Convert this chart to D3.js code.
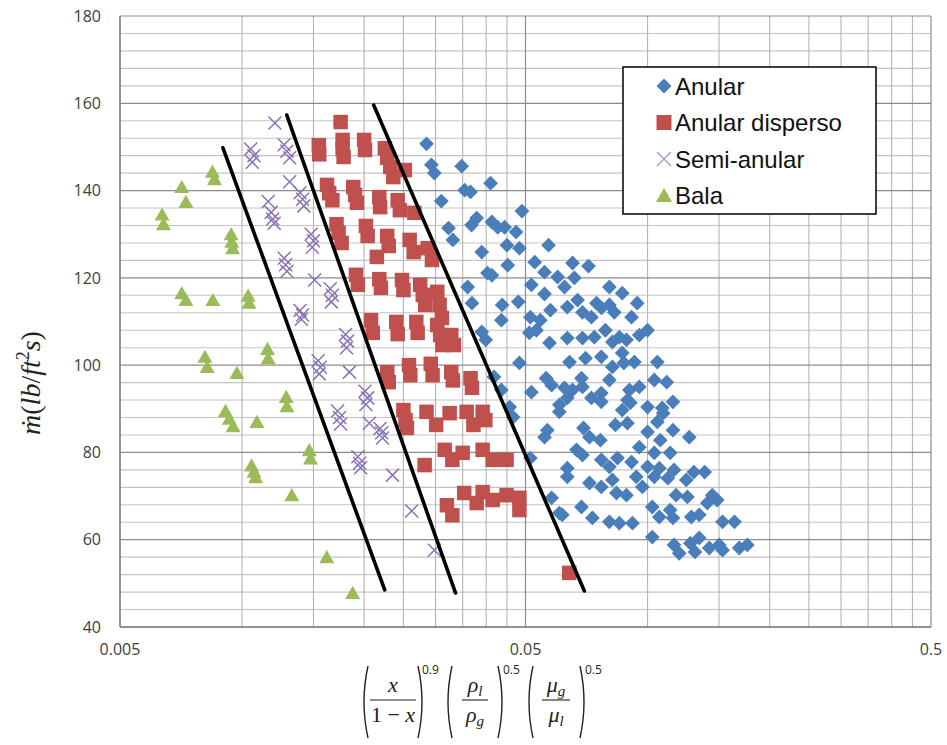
<!DOCTYPE html>
<html><head><meta charset="utf-8">
<script src="https://cdn.jsdelivr.net/npm/d3@7/dist/d3.min.js"></script>
<style>body{margin:0;background:#fff}svg{display:block}</style>
</head><body>
<svg id="c" width="947" height="745"></svg>
<script>
// ---------- DATA ----------
const seriesNames = ["Anular", "Anular disperso", "Semi-anular", "Bala"];
const xTickLabels = [0.005, 0.05, 0.5];
const yTickLabels = [40, 60, 80, 100, 120, 140, 160, 180];

const anular = [
[0.0285,150.7],[0.0293,145.9],[0.0298,144.0],[0.0348,145.6],[0.0354,140.1],[0.0366,139.7],[0.041,141.7],[0.031,137.6],[0.049,135.3],[0.0379,133.7],[0.0368,132.1],[0.0413,132.8],[0.0427,131.6],[0.0444,131.6],[0.0474,130.5],[0.0323,131.4],[0.0331,128.7],[0.039,125.9],[0.045,127.5],[0.0483,126.8],[0.057,127.5],[0.0527,123.6],[0.0557,121.3],[0.0452,122.9],[0.0403,121.1],[0.0413,120.6],[0.06,120.2],[0.0653,123.4],[0.066,120.0],[0.0715,122.7],[0.036,117.9],[0.0369,114.2],[0.0517,118.4],[0.0557,116.3],[0.0624,117.9],[0.0805,117.9],[0.0866,116.5],[0.0438,113.8],[0.0436,110.3],[0.048,114.5],[0.0514,111.0],[0.0544,110.3],[0.0576,112.6],[0.0634,113.3],[0.0672,114.9],[0.0691,112.1],[0.0727,111.0],[0.0748,114.2],[0.0805,113.8],[0.0828,112.1],[0.0511,107.4],[0.0532,108.0],[0.039,107.6],[0.0399,105.8],[0.0573,105.1],[0.0634,106.2],[0.0691,106.2],[0.0739,106.4],[0.0787,108.0],[0.0852,106.4],[0.0887,105.8],[0.0954,106.9],[0.1,108.0],[0.077,113.1],[0.0943,114.2],[0.0913,111.0],[0.0819,105.3],
[0.0642,100.7],[0.0703,101.6],[0.0769,101.9],[0.0819,99.6],[0.0874,100.5],[0.0928,100.7],[0.1057,100.7],[0.0483,100.5],[0.0866,102.8],[0.0562,97.0],[0.058,95.4],[0.0517,93.8],[0.0418,97.3],[0.0436,94.3],[0.0457,90.4],[0.0466,88.1],[0.0687,97.0],[0.0805,96.6],[0.0902,94.3],[0.1039,96.6],[0.1115,96.1],[0.0954,95.0],[0.0624,94.8],[0.0727,92.5],[0.0769,93.6],[0.1,90.4],[0.1087,90.2],[0.1155,91.6],[0.0907,91.4],[0.0606,90.9],[0.0634,92.5],[0.0653,94.3],[0.0691,95.0],[0.0769,91.6],[0.0866,89.7],[0.0892,92.0],[0.1093,89.0],[0.0606,89.3],
[0.0695,85.6],[0.0833,86.3],[0.0892,86.7],[0.1,84.7],[0.1057,87.0],[0.1155,85.1],[0.1075,82.8],[0.1267,83.5],[0.0566,85.1],[0.0557,83.5],[0.0719,83.5],[0.0765,82.8],[0.0954,81.2],[0.1039,79.9],[0.1137,79.9],[0.0668,80.6],[0.0691,79.4],[0.0514,78.7],[0.0769,78.3],[0.0805,76.7],[0.0843,78.7],[0.0634,76.4],[0.0634,74.4],[0.0719,73.0],[0.0769,72.1],[0.0819,73.7],[0.0838,70.7],[0.0887,70.2],[0.0913,77.8],[0.1,76.7],[0.1069,76.4],[0.1162,76.0],[0.1301,75.5],[0.1383,75.5],[0.0938,74.4],[0.0971,72.1],[0.1039,74.4],[0.1122,74.1],[0.1246,73.7],[0.1176,70.2],[0.1254,69.8],[0.1444,70.2],[0.1485,69.1],[0.1404,68.4],[0.1027,67.5],
[0.0687,67.5],[0.0616,65.7],[0.0731,65.0],[0.0805,64.1],[0.0852,63.8],[0.0918,63.8],[0.1069,65.2],[0.1137,66.8],[0.1155,65.0],[0.1282,65.2],[0.1341,65.7],[0.1531,64.1],[0.1638,64.1],[0.058,69.6],[0.0606,66.1],[0.1027,60.6],[0.1162,58.8],[0.1197,56.9],[0.1275,59.2],[0.1309,57.2],[0.142,58.1],[0.1502,58.8],[0.1531,57.6],[0.1683,58.1],[0.1762,58.8],[0.1341,60.4]
];

const anularDisperso = [
[0.0175,155.7],
[0.01546,150.4],[0.0155,148.3],[0.0177,151.6],[0.0177,149.5],[0.0178,147.7],[0.0200,151.6],[0.0201,149.3],[0.0225,149.7],[0.0228,147.5],[0.0232,145.4],[0.0236,143.1],[0.0252,144.7],
[0.0162,141.3],[0.0164,139.4],[0.0167,137.8],[0.0188,140.8],[0.019,139],[0.0192,137.2],[0.0218,138.5],[0.0219,136.2],[0.0242,137.8],[0.0245,135.5],[0.0266,134.9],
[0.0171,132.3],[0.0173,130.3],[0.0176,128],[0.0202,131.9],[0.0204,129.6],[0.0228,129.6],[0.023,127.3],[0.0215,124.8],[0.0259,128.7],[0.0265,125.9],[0.0287,126.8],[0.0294,124.1],
[0.0191,120.7],[0.0193,118.4],[0.0218,119.7],[0.022,117.7],[0.0248,119.5],[0.025,117.2],[0.0275,118.4],[0.0279,116.1],[0.0283,113.8],[0.0303,116.8],[0.0307,113.8],[0.0311,110.8],
[0.0208,110.3],[0.021,107.4],[0.024,109.9],[0.0242,107.1],[0.0269,109.9],[0.0271,107.4],[0.0303,109.2],[0.0308,106.9],[0.0312,104.6],[0.0328,106.9],[0.0333,104.6],
[0.0228,98.4],[0.023,96.1],[0.0258,100],[0.026,97.7],[0.0292,100.3],[0.0295,97.7],[0.0328,98.4],[0.0331,96.5],[0.0366,97],[0.0369,94.8],
[0.025,89.7],[0.0253,87.4],[0.0255,85.6],[0.0285,89.3],[0.0301,86.3],[0.0325,89],[0.0358,89.3],[0.0392,89.3],[0.0372,86.3],[0.0398,87.4],
[0.0282,77.1],[0.0316,80.6],[0.033,78.3],[0.035,79.9],[0.0392,80.6],[0.0415,78.3],[0.0449,78.3],
[0.0353,70.7],[0.0379,68.4],[0.0392,70.9],[0.0415,69.1],[0.0449,70.2],[0.0483,69.6],[0.0483,66.8],[0.032,67.9],[0.033,65.6],
[0.0641,52.4]
];

const semiAnular = [
[0.01205,155.5],
[0.0105,149.5],[0.0107,148],[0.0106,146.5],
[0.0127,150.5],[0.0129,149],[0.0131,147.5],
[0.0131,142],
[0.0139,139.5],[0.0141,138],[0.0142,136.5],
[0.0116,137.5],
[0.0118,135],[0.0119,133.5],[0.012,132.5],
[0.0148,130],[0.015,128.5],[0.0149,127],
[0.0127,124.5],[0.0128,123],[0.0129,121.5],
[0.0151,119.5],
[0.0165,117.5],[0.0167,116],[0.0166,114.5],
[0.0139,112.5],[0.0141,111.5],[0.014,110.5],
[0.018,107],[0.0182,105.5],[0.0181,104],
[0.0154,101],[0.0156,99.5],[0.0155,98],
[0.0184,98.4],
[0.0201,94],[0.0204,92.5],[0.0202,91],
[0.0172,89.5],[0.0174,88],[0.0175,86.5],
[0.0206,86.7],
[0.0219,85.5],[0.0221,84.5],[0.0222,83.3],
[0.0193,79],[0.0195,77.5],[0.0196,76.5],
[0.0235,74.8],
[0.0262,66.6],
[0.0298,57.6]
];

const bala = [
[0.0071,140.8],[0.00727,137.4],[0.00635,134.5],[0.0064,132.3],[0.00845,144.3],[0.00855,142.6],[0.0094,130],[0.00943,128.3],[0.00948,126.8],[0.0071,116.5],[0.00727,114.9],[0.00847,114.9],[0.01035,115.9],[0.0104,114.3],[0.0081,101.9],[0.0082,99.6],[0.01155,103.7],[0.0116,101.6],[0.00971,98.2],[0.01285,92.7],[0.0129,90.6],[0.0091,89.5],[0.0093,87.7],[0.0095,86],[0.01088,87],[0.01465,80.5],[0.01475,78.6],[0.01055,77],[0.0107,75.6],[0.0108,74.3],[0.01326,70.2],[0.01618,56],[0.01874,47.8]
];

// boundary lines between regimes (start, end)
const boundaryLines = [
  [[0.00897,149.8],[0.02248,48.5]],
  [[0.01289,157.3],[0.0336,47.8]],
  [[0.02111,159.6],[0.06985,48.25]]
];

// ---------- CHART ----------
const svg = d3.select('#c');
const L = 120, R = 931, T = 16, B = 627;
const x = d3.scaleLog().domain([0.005, 0.5]).range([L, R]);
const y = d3.scaleLinear().domain([40, 180]).range([B, T]);

const colors = {a:'#4a7ebb', d:'#c0504d', s:'#8a72b5', b:'#9bbb59'};

// grid
const gMinor = svg.append('g');
const yMinor = d3.range(40, 181, 4).filter(v => v % 20 !== 0);
gMinor.selectAll('line.hm').data(yMinor).join('line')
  .attr('x1', L).attr('x2', R).attr('y1', d => y(d)).attr('y2', d => y(d))
  .attr('stroke', '#c4c4c4').attr('stroke-width', 1.1);
const xMinor = [];
for (let k = 2; k <= 9; k++) { xMinor.push(0.005 * k); xMinor.push(0.05 * k); }
gMinor.selectAll('line.vm').data(xMinor).join('line')
  .attr('y1', T).attr('y2', B).attr('x1', d => x(d)).attr('x2', d => x(d))
  .attr('stroke', '#b4b4b4').attr('stroke-width', 1.1);
const gMajor = svg.append('g');
gMajor.selectAll('line.hM').data(yTickLabels).join('line')
  .attr('x1', L).attr('x2', R).attr('y1', d => y(d)).attr('y2', d => y(d))
  .attr('stroke', '#8c8c8c').attr('stroke-width', 1.2);
gMajor.selectAll('line.vM').data(xTickLabels).join('line')
  .attr('y1', T).attr('y2', B).attr('x1', d => x(d)).attr('x2', d => x(d))
  .attr('stroke', '#8c8c8c').attr('stroke-width', 1.2);

// axes lines
svg.append('line').attr('x1', L).attr('x2', L).attr('y1', T).attr('y2', B).attr('stroke', '#7f7f7f').attr('stroke-width', 1.3);
svg.append('line').attr('x1', L).attr('x2', R).attr('y1', B).attr('y2', B).attr('stroke', '#7f7f7f').attr('stroke-width', 1.3);

// tick labels
const tickFont = "'Open Sans', 'DejaVu Sans', sans-serif";
svg.append('g').selectAll('text').data(yTickLabels).join('text')
  .attr('x', 101).attr('y', d => y(d)).attr('dy', '0.36em')
  .attr('text-anchor', 'end').attr('font-family', tickFont).attr('font-size', 16)
  .attr('fill', '#404040').text(d => d);
svg.append('g').selectAll('text').data(xTickLabels).join('text')
  .attr('x', d => x(d)).attr('y', 655)
  .attr('text-anchor', 'middle').attr('font-family', tickFont).attr('font-size', 16)
  .attr('fill', '#404040').text(d => d);

// marker shapes
const diamondPath = r => `M0,${-r}L${r},0L0,${r}L${-r},0Z`;
const squarePath = s => `M${-s/2},${-s/2}h${s}v${s}h${-s}Z`;
const triPath = w => `M0,${-w*0.48}L${w/2},${w*0.4}L${-w/2},${w*0.4}Z`;
const crossPath = r => `M${-r},${-r}L${r},${r}M${-r},${r}L${r},${-r}`;

const plot = svg.append('g');
plot.selectAll('path.a').data(anular).join('path')
  .attr('transform', d => `translate(${x(d[0])},${y(d[1])})`)
  .attr('d', diamondPath(7.4)).attr('fill', colors.a);
plot.selectAll('path.d').data(anularDisperso).join('path')
  .attr('transform', d => `translate(${x(d[0])},${y(d[1])})`)
  .attr('d', squarePath(14.5)).attr('fill', colors.d);
plot.selectAll('path.s').data(semiAnular).join('path')
  .attr('transform', d => `translate(${x(d[0])},${y(d[1])})`)
  .attr('d', crossPath(6.5)).attr('fill', 'none').attr('stroke', colors.s).attr('stroke-width', 1.5);
plot.selectAll('path.b').data(bala).join('path')
  .attr('transform', d => `translate(${x(d[0])},${y(d[1])})`)
  .attr('d', triPath(15)).attr('fill', colors.b);

// boundary lines
const lineGen = d3.line().x(d => x(d[0])).y(d => y(d[1]));
svg.append('g').selectAll('path').data(boundaryLines).join('path')
  .attr('d', lineGen).attr('fill', 'none').attr('stroke', '#000').attr('stroke-width', 3.6)
  .attr('stroke-linecap', 'round');

// legend
const lg = svg.append('g');
lg.append('rect').attr('x', 623).attr('y', 67).attr('width', 253).attr('height', 147)
  .attr('fill', '#fff').attr('stroke', '#000').attr('stroke-width', 1.5);
const legendItems = [
  {name: seriesNames[0], shape: diamondPath(7.5), fill: colors.a},
  {name: seriesNames[1], shape: squarePath(15), fill: colors.d},
  {name: seriesNames[2], shape: crossPath(7), fill: 'none', stroke: '#a595c6'},
  {name: seriesNames[3], shape: triPath(16), fill: colors.b}
];
legendItems.forEach((it, i) => {
  const cy = 86 + i * 36.5;
  lg.append('path').attr('transform', `translate(664,${cy})`).attr('d', it.shape)
    .attr('fill', it.fill).attr('stroke', it.stroke || 'none').attr('stroke-width', 1.3);
  lg.append('text').attr('x', 675).attr('y', cy).attr('dy', '0.36em')
    .attr('font-family', "'Liberation Sans', Arial, sans-serif").attr('font-size', 24)
    .attr('fill', '#111').text(it.name);
});

// y-axis title
const yt = svg.append('text').attr('transform', 'translate(40,383) rotate(-90)')
  .attr('text-anchor', 'middle').attr('font-family', "'Liberation Serif', 'DejaVu Serif', serif")
  .attr('font-size', 28).attr('fill', '#222');
yt.append('tspan').attr('font-style', 'italic').text('ṁ');
yt.append('tspan').text('(');
yt.append('tspan').attr('font-style', 'italic').text('lb');
yt.append('tspan').text('/');
yt.append('tspan').attr('font-style', 'italic').text('ft');
yt.append('tspan').attr('font-size', 18).attr('dy', -11).text('2');
yt.append('tspan').attr('font-style', 'italic').attr('dy', 11).text('s');
yt.append('tspan').text(')');

// x-axis title (formula)
const fg = svg.append('g').attr('fill', '#222').attr('font-family', "'Liberation Serif', 'DejaVu Serif', serif");
const pTop = 666, pBot = 738;
function paren(px, left) {
  const b = left ? -5 : 5;
  fg.append('path').attr('d', `M${px},${pTop} Q${px + b * 1.6},${(pTop + pBot) / 2} ${px},${pBot}`)
    .attr('fill', 'none').attr('stroke', '#222').attr('stroke-width', 1.4);
}
function frac(cx, w, num, numSub, den, denSub, denUpright) {
  fg.append('line').attr('x1', cx - w / 2).attr('x2', cx + w / 2).attr('y1', 700).attr('y2', 700)
    .attr('stroke', '#222').attr('stroke-width', 1.1);
  const n = fg.append('text').attr('x', cx).attr('y', 692).attr('text-anchor', 'middle').attr('font-size', 22);
  n.append('tspan').attr('font-style', 'italic').text(num);
  if (numSub) n.append('tspan').attr('font-style', 'italic').attr('font-size', 15).attr('dy', 4).text(numSub);
  const d = fg.append('text').attr('x', cx).attr('y', 722).attr('text-anchor', 'middle').attr('font-size', 22);
  if (denUpright) {
    d.append('tspan').text('1 − ');
    d.append('tspan').attr('font-style', 'italic').text(den);
  } else {
    d.append('tspan').attr('font-style', 'italic').text(den);
    if (denSub) d.append('tspan').attr('font-style', 'italic').attr('font-size', 15).attr('dy', 4).text(denSub);
  }
}
function expo(px, t) {
  fg.append('text').attr('x', px).attr('y', 674).attr('font-family', "'Open Sans', 'DejaVu Sans', sans-serif")
    .attr('font-size', 12).text(t);
}
paren(368, true); frac(393, 46, 'x', null, 'x', null, true); paren(418, false); expo(422, '0.9');
paren(452, true); frac(475, 26, 'ρ', 'l', 'ρ', 'g', false); paren(498, false); expo(503, '0.5');
paren(533, true); frac(556, 28, 'μ', 'g', 'μ', 'l', false); paren(580, false); expo(585, '0.5');
</script>
</body></html>
